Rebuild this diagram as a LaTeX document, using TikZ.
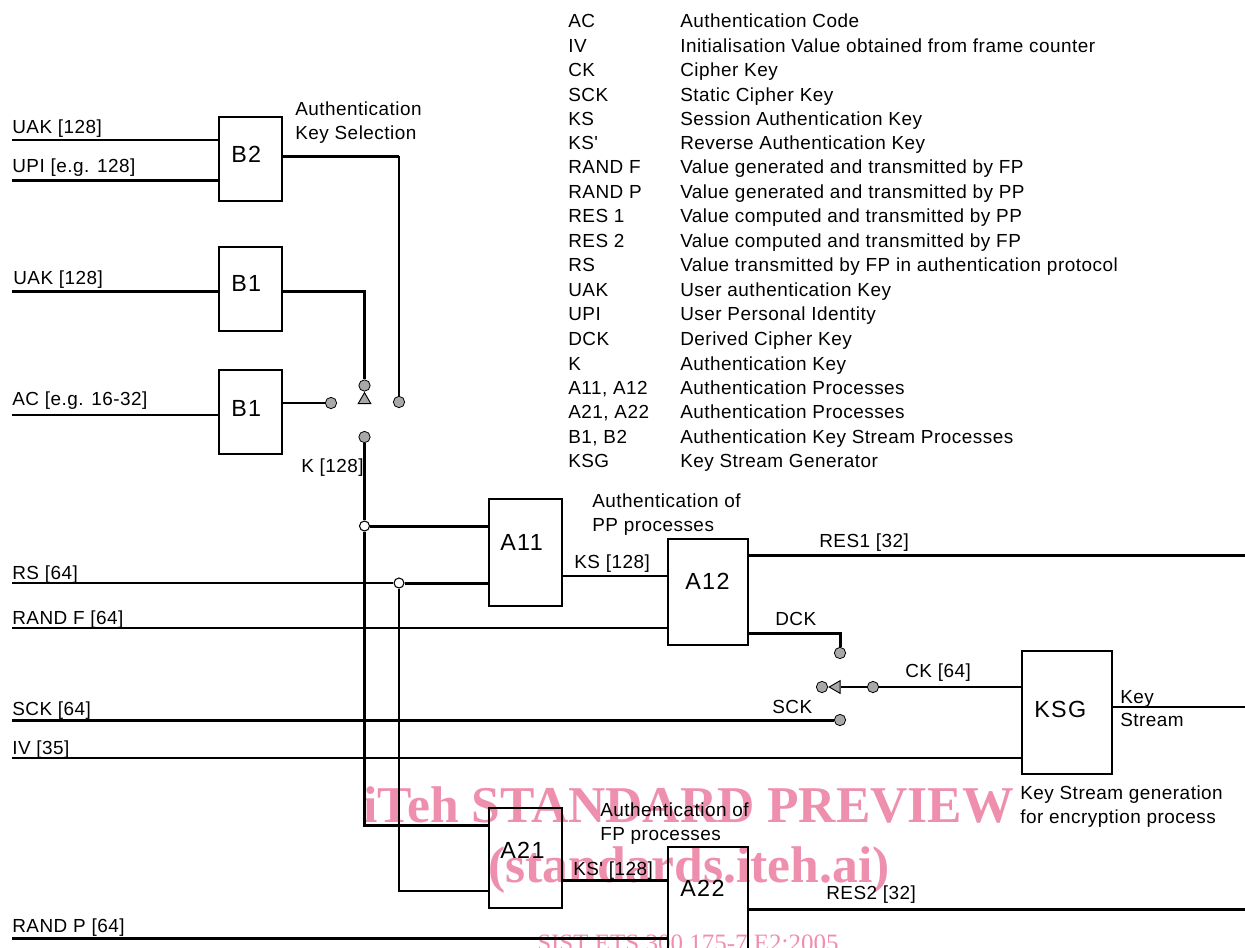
\documentclass[tikz,border=0pt]{standalone}
\usepackage{fontspec}
\setmainfont{Liberation Sans}
\newfontfamily\lblfont[LetterSpace=2.6]{Liberation Sans}
\newfontfamily\boxfont[LetterSpace=6]{Liberation Sans}
\newfontfamily\wmfont{Liberation Serif}
\usetikzlibrary{shapes.geometric}
\definecolor{wmpink}{HTML}{EE8FAE}
\definecolor{termgray}{HTML}{A8A8A8}
\tikzset{
  lbl/.style={anchor=base west,inner sep=0pt,font=\fontsize{14.2pt}{16pt}\lblfont},
  boxlbl/.style={anchor=base west,inner sep=0pt,font=\fontsize{17.5pt}{20pt}\boxfont},
  wmbig/.style={anchor=base west,inner sep=0pt,text=wmpink,font=\fontsize{38.7pt}{42pt}\wmfont\bfseries},
  wmsmall/.style={anchor=base west,inner sep=0pt,text=wmpink,font=\fontsize{18.75pt}{22pt}\wmfont},
  blockbox/.style={draw,line width=1.4pt,inner sep=0pt,outer sep=0pt,anchor=north west},
  wire/.style={line width=1.5pt},
  heavy/.style={line width=2.25pt},
  term/.style={circle,draw,fill=termgray,line width=.6pt,inner sep=0pt,minimum size=8.5pt},
  junc/.style={circle,draw,fill=white,line width=.8pt,inner sep=0pt,minimum size=7.5pt},
  tri/.style={regular polygon,regular polygon sides=3,draw,fill=termgray,line width=.7pt,inner sep=0pt,minimum size=11pt},
}
\begin{document}
\begin{tikzpicture}[x=0.75pt,y=-0.75pt]
\useasboundingbox (0,0) rectangle (1245,947);
% watermark
\node[wmbig] (wm1) at (363,822) {iTeh STANDARD PREVIEW};
\node[wmbig] (wm2) at (488,882) {(standards.iteh.ai)};
\begin{scope}
\clip (0,0) rectangle (1245,947);
\node[wmsmall] (wm3) at (537,951) {SIST ETS 300 175-7 E2:2005};
\end{scope}
% legend
\foreach \yy/\aa/\dd [count=\n] in {
 27/AC/Authentication Code,
 52/IV/Initialisation Value obtained from frame counter,
 76/CK/Cipher Key,
 101/SCK/Static Cipher Key,
 125/KS/Session Authentication Key,
 149/KS'/Reverse Authentication Key,
 173/RAND F/Value generated and transmitted by FP,
 198/RAND P/Value generated and transmitted by PP,
 222/RES 1/Value computed and transmitted by PP,
 247/RES 2/Value computed and transmitted by FP,
 271/RS/Value transmitted by FP in authentication protocol,
 296/UAK/User authentication Key,
 320/UPI/User Personal Identity,
 345/DCK/Derived Cipher Key,
 370/K/Authentication Key,
 394/{A11, A12}/Authentication Processes,
 418/{A21, A22}/Authentication Processes,
 443/{B1, B2}/Authentication Key Stream Processes,
 467/KSG/Key Stream Generator}{
  \node[lbl] (abbr\n) at (568,\yy) {\aa};
  \node[lbl] (desc\n) at (680,\yy) {\dd};
}
% boxes
\node[blockbox,minimum width=47.25pt,minimum height=63pt] (b2) at (219,117) {};
\node[blockbox,minimum width=47.25pt,minimum height=63pt] (b1a) at (219,247) {};
\node[blockbox,minimum width=47.25pt,minimum height=63pt] (b1b) at (219,370) {};
\node[blockbox,minimum width=54.75pt,minimum height=80.25pt] (a11) at (489,499) {};
\node[blockbox,minimum width=60pt,minimum height=79.5pt] (a12) at (668,539) {};
\node[blockbox,minimum width=67.5pt,minimum height=92.25pt] (ksg) at (1022,651) {};
\node[blockbox,minimum width=54.75pt,minimum height=75pt] (a21) at (489,808) {};
\node[blockbox,minimum width=60pt,minimum height=90pt] (a22) at (668,847) {};
\node[boxlbl] (tb2) at (231,162) {B2};
\node[boxlbl] (tb1a) at (231,291) {B1};
\node[boxlbl] (tb1b) at (231,416) {B1};
\node[boxlbl] (ta11) at (500,550) {A11};
\node[boxlbl] (ta12) at (685,589) {A12};
\node[boxlbl] (tksg) at (1034,717) {KSG};
\node[boxlbl] (ta21) at (500,858) {A21};
\node[boxlbl] (ta22) at (680,896) {A22};
% free-end coordinates
\coordinate (iuak1) at (12,140);
\coordinate (iupi) at (12,180);
\coordinate (iuak2) at (12,291);
\coordinate (iac) at (12,415);
\coordinate (irs) at (12,583);
\coordinate (irf) at (12,628);
\coordinate (isck) at (12,720);
\coordinate (iiv) at (12,758);
\coordinate (irp) at (12,938);
\coordinate (ores1) at (1245,555);
\coordinate (okey) at (1245,707);
\coordinate (ores2) at (1245,909);
\coordinate (ob2) at (282,156);
\coordinate (ob1a) at (282,291);
\coordinate (ob1b) at (282,403);
\coordinate (ik) at (489,526);
\coordinate (ia21a) at (489,825);
\coordinate (ia21b) at (489,891);
\coordinate (oa11) at (562,576);
\coordinate (oa21) at (562,880);
\coordinate (odck) at (748,633);
% terminals
\node[term] (t1) at (331,403) {};
\node[term] (t2) at (399,402) {};
\node[term] (t3) at (364.5,385.5) {};
\node[term] (t4) at (364.5,437) {};
\node[tri] (sw1) at (364.5,400) {};
\node[junc] (j1) at (364.5,526) {};
\node[junc] (j2) at (399,583) {};
\node[term] (t5) at (840,653) {};
\node[term] (t6) at (840,720) {};
\node[term] (t7) at (873,687) {};
\node[term] (t8) at (822,687) {};
\node[tri,shape border rotate=90] (sw2) at (836.5,687) {};
% connectors
\draw[wire] (iuak1) -- (iuak1 -| b2.west);
\draw[heavy] (iupi) -- (iupi -| b2.west);
\draw[heavy] (iuak2) -- (iuak2 -| b1a.west);
\draw[wire] (iac) -- (iac -| b1b.west);
\draw[heavy] (ob2) -- (ob2 -| t2);
\draw[wire] (ob2 -| t2) -- (t2.north);
\draw[heavy] (ob1a) -| (t3.north);
\draw[wire] (ob1b) -- (t1.west);
\draw[heavy] (t4.south) -- (j1.north);
\draw[heavy] (j1.south) |- (ia21a);
\draw[heavy] (j1.east) -- (ik);
\draw[wire] (irs) -- (j2.west);
\draw[heavy] (j2.east) -- (irs -| a11.west);
\draw[wire] (j2.south) |- (ia21b);
\draw[wire] (irf) -- (irf -| a12.west);
\draw[wire] (oa11) -- (oa11 -| a12.west);
\draw[heavy] (ores1 -| a12.east) -- (ores1);
\draw[heavy] (odck) -| (t5.north);
\draw[heavy] (isck) -- (t6.west);
\draw[wire] (iiv) -- (iiv -| ksg.west);
\draw[wire] (ksg.west |- t7) -- (t7.east);
\draw[wire] (t7.west) -- (sw2.east |- t7);
\draw[wire] (ksg.east |- okey) -- (okey);
\draw[heavy] (oa21) -- (oa21 -| a22.west);
\draw[heavy] (ores2 -| a22.east) -- (ores2);
\draw[heavy] (irp) -- (irp -| a22.west);
% labels
\node[lbl] (l1) at (12,133) {UAK [128]};
\node[lbl] (l2) at (12,172) {UPI [e.g. 128]};
\node[lbl] (l3) at (13,284) {UAK [128]};
\node[lbl] (l4) at (12,405) {AC [e.g. 16-32]};
\node[lbl] (l5) at (295,115) {Authentication};
\node[lbl] (l6) at (295,139) {Key Selection};
\node[lbl] (l7) at (301,472) {K [128]};
\node[lbl] (l8) at (592,507) {Authentication of};
\node[lbl] (l9) at (592,531) {PP processes};
\node[lbl] (l10) at (574,568) {KS [128]};
\node[lbl] (l11) at (819,547) {RES1 [32]};
\node[lbl] (l12) at (775,625) {DCK};
\node[lbl] (l13) at (905,677) {CK [64]};
\node[lbl] (l14) at (772,713) {SCK};
\node[lbl] (l15) at (1120,703) {Key};
\node[lbl] (l16) at (1120,726) {Stream};
\node[lbl] (l17) at (1020,799) {Key Stream generation};
\node[lbl] (l18) at (1020,823) {for encryption process};
\node[lbl] (l19) at (12,579) {RS [64]};
\node[lbl] (l20) at (12,624) {RAND F [64]};
\node[lbl] (l21) at (12,715) {SCK [64]};
\node[lbl] (l22) at (12,754) {IV [35]};
\node[lbl] (l23) at (600,816) {Authentication of};
\node[lbl] (l24) at (600,840) {FP processes};
\node[lbl] (l25) at (573,875) {KS' [128]};
\node[lbl] (l26) at (826,899) {RES2 [32]};
\node[lbl] (l27) at (12,932) {RAND P [64]};
\end{tikzpicture}
\end{document}
